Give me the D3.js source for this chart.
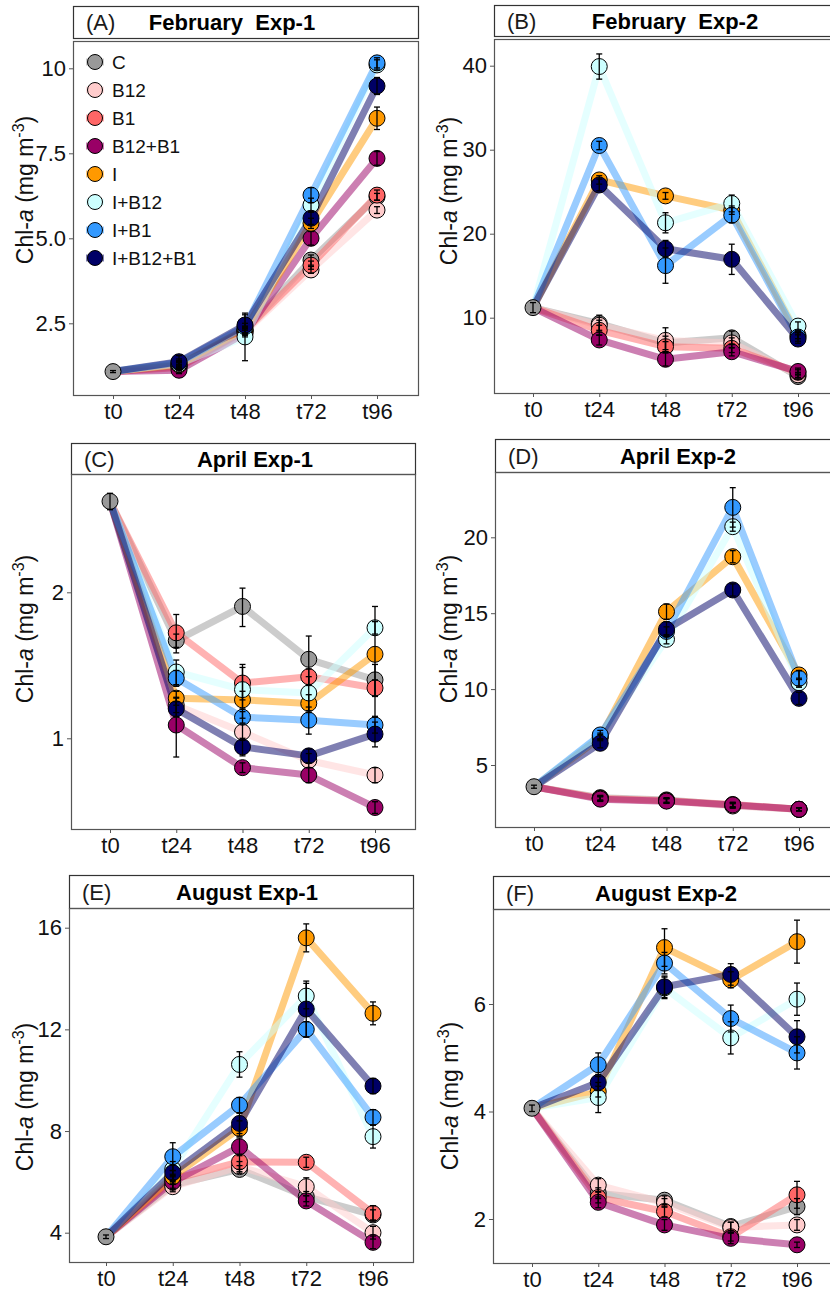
<!DOCTYPE html>
<html>
<head>
<meta charset="utf-8">
<script src="https://cdn.jsdelivr.net/npm/d3@7"></script>
<style>
  body { margin: 0; background: #fff; }
  svg { display: block; font-family: "Liberation Sans", Arial, sans-serif; }
  .strip-title { white-space: pre; }
</style>
</head>
<body>
<div id="chart"></div>
<script>
// 1: DATA
const times = ["t0", "t24", "t48", "t72", "t96"];
const treatments = ["C", "B12", "B1", "B12+B1", "I", "I+B12", "I+B1", "I+B12+B1"];
const colors = ["#999999", "#FFCCCC", "#FF6666", "#990066", "#FF9900", "#CCFFFF", "#3399FF", "#000066"];

// rows follow the order of treatments
const febExp1 = [
  [1.08, 1.25, 2.30, 4.36, 6.22],
  [1.08, 1.22, 2.25, 4.07, 5.83],
  [1.08, 1.20, 2.28, 4.21, 6.27],
  [1.08, 1.12, 2.20, 5.00, 7.35],
  [1.08, 1.28, 2.32, 5.44, 8.53],
  [1.08, 1.30, 2.10, 5.98, 10.10],
  [1.08, 1.35, 2.40, 6.27, 10.16],
  [1.08, 1.37, 2.45, 5.59, 9.48]
];
const febExp1Err = [
  [0.03, 0.10, 0.10, 0.15, 0.10],
  [0.03, 0.08, 0.10, 0.10, 0.10],
  [0.03, 0.08, 0.10, 0.12, 0.15],
  [0.03, 0.10, 0.10, 0.20, 0.20],
  [0.03, 0.10, 0.10, 0.15, 0.33],
  [0.03, 0.10, 0.70, 0.20, 0.15],
  [0.03, 0.10, 0.10, 0.22, 0.15],
  [0.03, 0.18, 0.30, 0.18, 0.25]
];

const febExp2 = [
  [11.2, 9.3, 7.0, 7.6, 3.0],
  [11.2, 9.1, 7.3, 7.0, 3.2],
  [11.2, 8.5, 6.55, 6.35, 3.5],
  [11.2, 7.35, 5.05, 5.95, 3.6],
  [11.2, 26.4, 24.5, 22.8, 7.9],
  [11.2, 39.9, 21.3, 23.6, 9.0],
  [11.2, 30.5, 16.2, 22.2, 7.7],
  [11.2, 25.8, 18.2, 16.95, 7.46]
];
const febExp2Err = [
  [0.6, 1.0, 0.8, 0.8, 0.3],
  [0.6, 0.6, 1.5, 0.6, 0.3],
  [0.6, 0.6, 0.6, 0.5, 0.3],
  [0.6, 0.6, 0.8, 0.5, 0.4],
  [0.6, 0.5, 0.4, 0.5, 0.4],
  [0.6, 1.5, 1.2, 1.0, 0.5],
  [0.6, 0.5, 2.1, 0.9, 0.5],
  [0.6, 0.7, 1.0, 1.8, 0.5]
];

const aprExp1 = [
  [3.08, 1.59, 1.87, 1.455, 1.32],
  [3.08, 1.17, 1.03, 0.90, 0.84],
  [3.08, 1.65, 1.30, 1.34, 1.27],
  [3.08, 1.065, 0.87, 0.84, 0.72],
  [3.08, 1.21, 1.20, 1.18, 1.49],
  [3.08, 1.37, 1.26, 1.24, 1.69],
  [3.08, 1.33, 1.105, 1.09, 1.065],
  [3.08, 1.15, 0.96, 0.92, 1.02]
];
const aprExp1Err = [
  [0.12, 0.05, 0.17, 0.17, 0.10],
  [0.12, 0.04, 0.04, 0.03, 0.03],
  [0.12, 0.15, 0.10, 0.05, 0.05],
  [0.12, 0.15, 0.02, 0.03, 0.02],
  [0.12, 0.04, 0.05, 0.05, 0.38],
  [0.12, 0.08, 0.16, 0.10, 0.05],
  [0.12, 0.05, 0.03, 0.07, 0.04],
  [0.12, 0.04, 0.04, 0.03, 0.06]
];

const aprExp2 = [
  [3.57, 2.85, 2.70, 2.35, 2.08],
  [3.57, 2.80, 2.65, 2.30, 2.08],
  [3.57, 2.80, 2.65, 2.40, 2.08],
  [3.57, 2.75, 2.62, 2.37, 2.08],
  [3.57, 6.80, 15.1, 18.72, 10.93],
  [3.57, 6.90, 13.28, 20.7, 10.42],
  [3.57, 6.98, 13.8, 21.97, 10.71],
  [3.57, 6.43, 13.94, 16.53, 9.39]
];
const aprExp2Err = [
  [0.1, 0.15, 0.15, 0.15, 0.1],
  [0.1, 0.15, 0.15, 0.15, 0.1],
  [0.1, 0.15, 0.15, 0.15, 0.1],
  [0.1, 0.15, 0.15, 0.15, 0.1],
  [0.1, 0.2, 0.5, 0.4, 0.3],
  [0.1, 0.2, 0.3, 0.3, 0.3],
  [0.1, 0.3, 0.3, 1.3, 0.5],
  [0.1, 0.3, 0.5, 0.4, 0.4]
];

const augExp1 = [
  [3.84, 5.88, 6.49, 5.42, 4.70],
  [3.84, 5.81, 6.60, 5.81, 4.00],
  [3.84, 6.10, 6.79, 6.77, 4.76],
  [3.84, 6.00, 7.38, 5.25, 3.62],
  [3.84, 6.20, 8.10, 15.6, 12.63],
  [3.84, 6.50, 10.62, 13.31, 7.78],
  [3.84, 6.99, 9.02, 12.0, 8.54],
  [3.84, 6.36, 8.30, 12.8, 9.77]
];
const augExp1Err = [
  [0.07, 0.20, 0.15, 0.20, 0.20],
  [0.07, 0.20, 0.20, 0.35, 0.25],
  [0.07, 0.20, 0.30, 0.20, 0.30],
  [0.07, 0.25, 0.35, 0.20, 0.25],
  [0.07, 0.25, 0.30, 0.55, 0.45],
  [0.07, 0.30, 0.50, 0.50, 0.45],
  [0.07, 0.55, 0.30, 0.30, 0.30],
  [0.07, 0.30, 0.40, 1.10, 0.30]
];

const augExp2 = [
  [4.06, 2.48, 2.35, 1.86, 2.23],
  [4.06, 2.63, 2.30, 1.84, 1.89],
  [4.06, 2.40, 2.14, 1.67, 2.45],
  [4.06, 2.31, 1.89, 1.64, 1.52],
  [4.06, 4.37, 7.05, 6.45, 7.16],
  [4.06, 4.26, 6.30, 5.37, 6.09],
  [4.06, 4.87, 6.76, 5.73, 5.09],
  [4.06, 4.54, 6.32, 6.55, 5.39]
];
const augExp2Err = [
  [0.06, 0.10, 0.08, 0.08, 0.15],
  [0.06, 0.12, 0.08, 0.10, 0.10],
  [0.06, 0.10, 0.10, 0.08, 0.25],
  [0.06, 0.10, 0.10, 0.10, 0.05],
  [0.06, 0.10, 0.35, 0.15, 0.40],
  [0.06, 0.28, 0.20, 0.30, 0.30],
  [0.06, 0.22, 0.20, 0.25, 0.30],
  [0.06, 0.15, 0.20, 0.20, 0.30]
];

// y tick values and labels per panel
const ticksA = [2.5, 5, 7.5, 10], tickLabelsA = ["2.5", "5.0", "7.5", "10"];
const ticksB = [10, 20, 30, 40], tickLabelsB = ["10", "20", "30", "40"];
const ticksC = [1, 2], tickLabelsC = ["1", "2"];
const ticksD = [5, 10, 15, 20], tickLabelsD = ["5", "10", "15", "20"];
const ticksE = [4, 8, 12, 16], tickLabelsE = ["4", "8", "12", "16"];
const ticksF = [2, 4, 6], tickLabelsF = ["2", "4", "6"];

// 2: LAYOUT (pixel positions of each facet)
const panels = [
  { tag: "(A)", title: "February  Exp-1", values: febExp1, err: febExp1Err, ticks: ticksA, labels: tickLabelsA,
    left: 73, right: 418, stripTop: 6, stripBottom: 38, top: 41, bottom: 395, x0: 113, x1: 377, titleX: 232,
    yRef: [10, 2.5], pxRef: [68.3, 323.3], log: false, labelX: 33, labelY: 190, legend: true },
  { tag: "(B)", title: "February  Exp-2", values: febExp2, err: febExp2Err, ticks: ticksB, labels: tickLabelsB,
    left: 494, right: 840, stripTop: 5, stripBottom: 36, top: 39, bottom: 393, x0: 533, x1: 798, titleX: 675,
    yRef: [40, 10], pxRef: [65.7, 317.7], log: false, labelX: 457, labelY: 191 },
  { tag: "(C)", title: "April Exp-1", values: aprExp1, err: aprExp1Err, ticks: ticksC, labels: tickLabelsC,
    left: 71, right: 415, stripTop: 443, stripBottom: 474, top: 474, bottom: 829, x0: 110, x1: 375, titleX: 255,
    yRef: [2, 1], pxRef: [592.3, 738.3], log: true, labelX: 33, labelY: 629 },
  { tag: "(D)", title: "April Exp-2", values: aprExp2, err: aprExp2Err, ticks: ticksD, labels: tickLabelsD,
    left: 495, right: 840, stripTop: 439, stripBottom: 472, top: 472, bottom: 827, x0: 534, x1: 799, titleX: 678,
    yRef: [20, 5], pxRef: [537.3, 765], log: false, labelX: 457, labelY: 629 },
  { tag: "(E)", title: "August Exp-1", values: augExp1, err: augExp1Err, ticks: ticksE, labels: tickLabelsE,
    left: 69, right: 413, stripTop: 875, stripBottom: 908, top: 908, bottom: 1262, x0: 106, x1: 373, titleX: 247,
    yRef: [16, 4], pxRef: [927.7, 1232.7], log: false, labelX: 33, labelY: 1097 },
  { tag: "(F)", title: "August Exp-2", values: augExp2, err: augExp2Err, ticks: ticksF, labels: tickLabelsF,
    left: 493, right: 840, stripTop: 876, stripBottom: 909, top: 909, bottom: 1263, x0: 532, x1: 797, titleX: 666,
    yRef: [6, 2], pxRef: [1004, 1219], log: false, labelX: 458, labelY: 1096 }
];

const svg = d3.select("#chart").append("svg")
  .attr("width", 830)
  .attr("height", 1291);

panels.forEach(p => {
  const g = svg.append("g");

  // 3: SCALES
  const x = d3.scalePoint().domain(times).range([p.x0, p.x1]);
  const y = (p.log ? d3.scaleLog() : d3.scaleLinear())
    .domain(p.yRef)
    .range(p.pxRef);

  // strip and panel border
  g.append("rect")
    .attr("x", p.left + 0.5).attr("y", p.stripTop + 0.5)
    .attr("width", p.right - p.left).attr("height", p.stripBottom - p.stripTop)
    .attr("fill", "#fff").attr("stroke", "#333").attr("stroke-width", 1.2);
  g.append("rect")
    .attr("x", p.left + 0.5).attr("y", p.top + 0.5)
    .attr("width", p.right - p.left).attr("height", p.bottom - p.top)
    .attr("fill", "none").attr("stroke", "#555").attr("stroke-width", 1.2);

  const stripMid = (p.stripTop + p.stripBottom) / 2;
  g.append("text")
    .attr("x", p.left + 13).attr("y", stripMid + 8)
    .attr("font-size", 22).attr("fill", "#1a1a1a")
    .text(p.tag);
  g.append("text")
    .attr("class", "strip-title")
    .attr("x", p.titleX).attr("y", stripMid + 8)
    .attr("text-anchor", "middle")
    .attr("font-size", 22).attr("font-weight", "bold").attr("fill", "#000")
    .text(p.title);

  // 4: LINES
  const line = d3.line()
    .x((d, i) => x(times[i]))
    .y(d => y(d));
  p.values.forEach((vals, k) => {
    g.append("path")
      .datum(vals)
      .attr("d", line)
      .attr("fill", "none")
      .attr("stroke", colors[k])
      .attr("stroke-opacity", 0.5)
      .attr("stroke-width", 7)
      .attr("stroke-linejoin", "round");
  });

  // points (t0 belongs to the control only)
  p.values.forEach((vals, k) => {
    g.selectAll(null)
      .data(vals.map((v, i) => ({ v, i })).filter(d => d.i > 0 || k === 0))
      .join("circle")
      .attr("cx", d => x(times[d.i]))
      .attr("cy", d => y(d.v))
      .attr("r", 8)
      .attr("fill", colors[k])
      .attr("stroke", "#000")
      .attr("stroke-width", 1);
  });

  // error bars
  p.values.forEach((vals, k) => {
    const bars = vals.map((v, i) => ({ v, i, e: p.err[k][i] })).filter(d => d.i > 0 || k === 0);
    const eb = g.selectAll(null).data(bars).join("g")
      .attr("stroke", "#000").attr("stroke-width", 1.3);
    eb.append("line")
      .attr("x1", d => x(times[d.i])).attr("x2", d => x(times[d.i]))
      .attr("y1", d => y(d.v - d.e)).attr("y2", d => y(d.v + d.e));
    eb.append("line")
      .attr("x1", d => x(times[d.i]) - 3).attr("x2", d => x(times[d.i]) + 3)
      .attr("y1", d => y(d.v - d.e)).attr("y2", d => y(d.v - d.e));
    eb.append("line")
      .attr("x1", d => x(times[d.i]) - 3).attr("x2", d => x(times[d.i]) + 3)
      .attr("y1", d => y(d.v + d.e)).attr("y2", d => y(d.v + d.e));
  });

  // 5: AXES
  const yAxis = g.append("g")
    .attr("transform", `translate(${p.left},0)`)
    .call(d3.axisLeft(y).tickValues(p.ticks).tickFormat((d, i) => p.labels[i]).tickSize(4).tickPadding(3));
  const xAxis = g.append("g")
    .attr("transform", `translate(0,${p.bottom})`)
    .call(d3.axisBottom(x).tickSize(4).tickPadding(4));
  [yAxis, xAxis].forEach(ax => {
    ax.select(".domain").remove();
    ax.selectAll(".tick line").attr("stroke", "#555");
    ax.selectAll(".tick text")
      .attr("font-size", 22)
      .attr("font-family", "Liberation Sans, Arial, sans-serif")
      .attr("fill", "#111");
  });

  // 6: LABELS
  const lab = g.append("text")
    .attr("transform", `translate(${p.labelX},${p.labelY}) rotate(-90)`)
    .attr("text-anchor", "middle")
    .attr("font-size", 23)
    .attr("fill", "#111");
  lab.append("tspan").text("Chl-");
  lab.append("tspan").attr("font-style", "italic").text("a");
  lab.append("tspan").text(" (mg m");
  lab.append("tspan").attr("font-size", 16).attr("dy", -9).text("-3");
  lab.append("tspan").attr("dy", 9).text(")");

  // legend (panel A only)
  if (p.legend) {
    const lg = g.append("g");
    treatments.forEach((t, k) => {
      const ly = 62 + k * 28;
      lg.append("line")
        .attr("x1", 86).attr("x2", 104).attr("y1", ly).attr("y2", ly)
        .attr("stroke", colors[k]).attr("stroke-opacity", 0.5).attr("stroke-width", 7);
      lg.append("circle")
        .attr("cx", 95).attr("cy", ly).attr("r", 7.5)
        .attr("fill", colors[k]).attr("stroke", "#000").attr("stroke-width", 1);
      lg.append("text")
        .attr("x", 112).attr("y", ly + 7)
        .attr("font-size", 19).attr("fill", "#111")
        .text(t);
    });
  }
});
</script>
</body>
</html>
